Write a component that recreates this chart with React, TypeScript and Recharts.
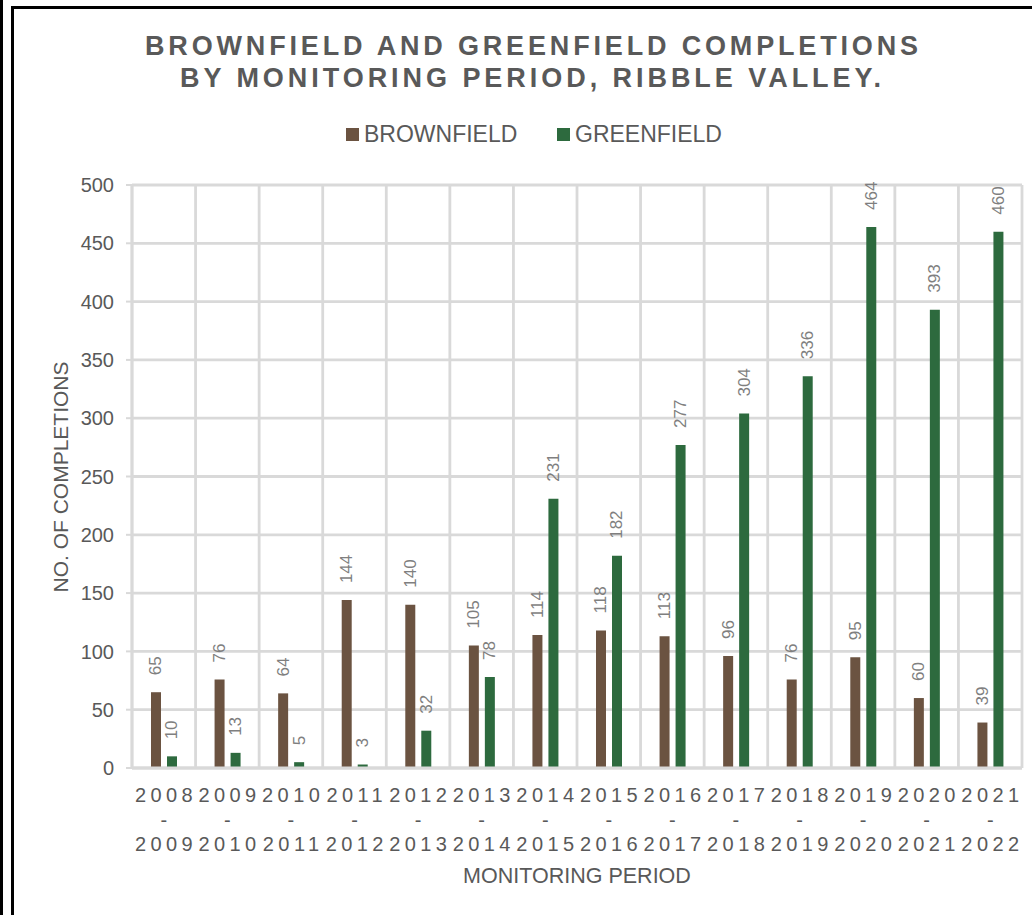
import React from "react";
import { Bar, BarChart, CartesianGrid, LabelList, XAxis, YAxis } from "recharts";

const periods = [
  "2008-2009", "2009-2010", "2010-2011", "2011-2012", "2012-2013", "2013-2014", "2014-2015",
  "2015-2016", "2016-2017", "2017-2018", "2018-2019", "2019-2020", "2020-2021", "2021-2022",
];
const brownfield = [65, 76, 64, 144, 140, 105, 114, 118, 113, 96, 76, 95, 60, 39];
const greenfield = [10, 13, 5, 3, 32, 78, 231, 182, 277, 304, 336, 464, 393, 460];
const yTicks = [0, 50, 100, 150, 200, 250, 300, 350, 400, 450, 500];

const BROWN = "#6b5341";
const GREEN = "#2d6a3e";
const TEXT = "#595959";
const GRID = "#d9d9d9";
const FONT = "Liberation Sans, Arial, sans-serif";

const data = periods.map((p, i) => ({
  period: p,
  brownfield: brownfield[i],
  greenfield: greenfield[i],
}));

function PeriodTick(props: any) {
  const { x, y, payload } = props;
  const [a, b] = String(payload.value).split("-");
  return (
    <g transform={`translate(${x + 2.2},${y})`}>
      <text textAnchor="middle" fill={TEXT} fontSize={20} fontFamily={FONT} letterSpacing={4.4}>
        <tspan x={0} dy={26}>{a}</tspan>
        <tspan x={0} dy={24.5}>-</tspan>
        <tspan x={0} dy={24.5}>{b}</tspan>
      </text>
    </g>
  );
}

function ValueLabel(props: any) {
  const { x, y, width, value } = props;
  const cx = x + width / 2;
  const ty = y - 17;
  return (
    <text
      x={cx}
      y={ty}
      transform={`rotate(-90 ${cx} ${ty})`}
      textAnchor="start"
      dominantBaseline="central"
      fill="#7f7f7f"
      fontSize={17}
      fontFamily={FONT}
    >
      {value}
    </text>
  );
}

// grid lines sit on the category boundaries, like Excel
const boundaryLines = ({ offset }: any) => {
  const n = periods.length;
  return Array.from({ length: n + 1 }, (_, i) => offset.left + (offset.width * i) / n);
};

function Legend() {
  const square = (left: number, color: string) => (
    <div style={{ position: "absolute", left, top: 128, width: 13, height: 13, background: color }} />
  );
  const label = (left: number, text: string) => (
    <div style={{ position: "absolute", left, top: 120, fontSize: 23, lineHeight: "28px", color: TEXT, fontFamily: FONT }}>
      {text}
    </div>
  );
  return (
    <>
      {square(346, BROWN)}
      {label(364, "BROWNFIELD")}
      {square(557, GREEN)}
      {label(575, "GREENFIELD")}
    </>
  );
}

export default function App() {
  return (
    <div style={{ position: "relative", width: 1032, height: 915, background: "#fff", overflow: "hidden" }}>
      <style>{`body{margin:0}`}</style>
      <div style={{ position: "absolute", left: 0, top: 0, width: 3, height: 915, background: "#000" }} />
      <div style={{ position: "absolute", left: 11, top: 6, width: 3, height: 909, background: "#000" }} />
      <div style={{ position: "absolute", left: 11, top: 6, width: 1021, height: 3, background: "#000" }} />
      <Legend />
      <BarChart
        width={1032}
        height={915}
        data={data}
        margin={{ top: 185, right: 10, bottom: 0, left: 72 }}
        barSize={10}
        barGap={6}
        style={{ position: "absolute", top: 0, left: 0 }}
      >
        <CartesianGrid stroke={GRID} strokeWidth={2.8} verticalCoordinatesGenerator={boundaryLines} />
        <XAxis
          dataKey="period"
          interval={0}
          tick={<PeriodTick />}
          tickLine={false}
          axisLine={{ stroke: GRID, strokeWidth: 2.8 }}
          height={147}
        />
        <YAxis
          domain={[0, 500]}
          ticks={yTicks}
          width={60}
          tick={{ fill: TEXT, fontSize: 20, fontFamily: FONT }}
          tickLine={{ stroke: GRID, strokeWidth: 2 }}
          tickSize={6}
          tickMargin={12}
          axisLine={{ stroke: GRID, strokeWidth: 2.8 }}
        />
        <Bar dataKey="brownfield" fill={BROWN} isAnimationActive={false}>
          <LabelList dataKey="brownfield" content={<ValueLabel />} />
        </Bar>
        <Bar dataKey="greenfield" fill={GREEN} isAnimationActive={false}>
          <LabelList dataKey="greenfield" content={<ValueLabel />} />
        </Bar>
        <text
          x={531.5}
          y={55}
          textAnchor="middle"
          fill={TEXT}
          fontSize={27}
          fontWeight="bold"
          fontFamily="Liberation Sans Narrow, Arial Narrow, Liberation Sans, sans-serif"
          textLength={773}
          lengthAdjust="spacing"
        >
          BROWNFIELD AND GREENFIELD COMPLETIONS
        </text>
        <text
          x={530.5}
          y={87}
          textAnchor="middle"
          fill={TEXT}
          fontSize={27}
          fontWeight="bold"
          fontFamily="Liberation Sans Narrow, Arial Narrow, Liberation Sans, sans-serif"
          textLength={701}
          lengthAdjust="spacing"
        >
          BY MONITORING PERIOD, RIBBLE VALLEY.
        </text>
        <text
          x={60}
          y={477}
          transform="rotate(-90 60 477)"
          textAnchor="middle"
          dominantBaseline="central"
          fill={TEXT}
          fontSize={21}
          fontFamily={FONT}
        >
          NO. OF COMPLETIONS
        </text>
        <text x={577} y={876} textAnchor="middle" dominantBaseline="central" fill={TEXT} fontSize={21.5} fontFamily={FONT}>
          MONITORING PERIOD
        </text>
      </BarChart>
    </div>
  );
}
